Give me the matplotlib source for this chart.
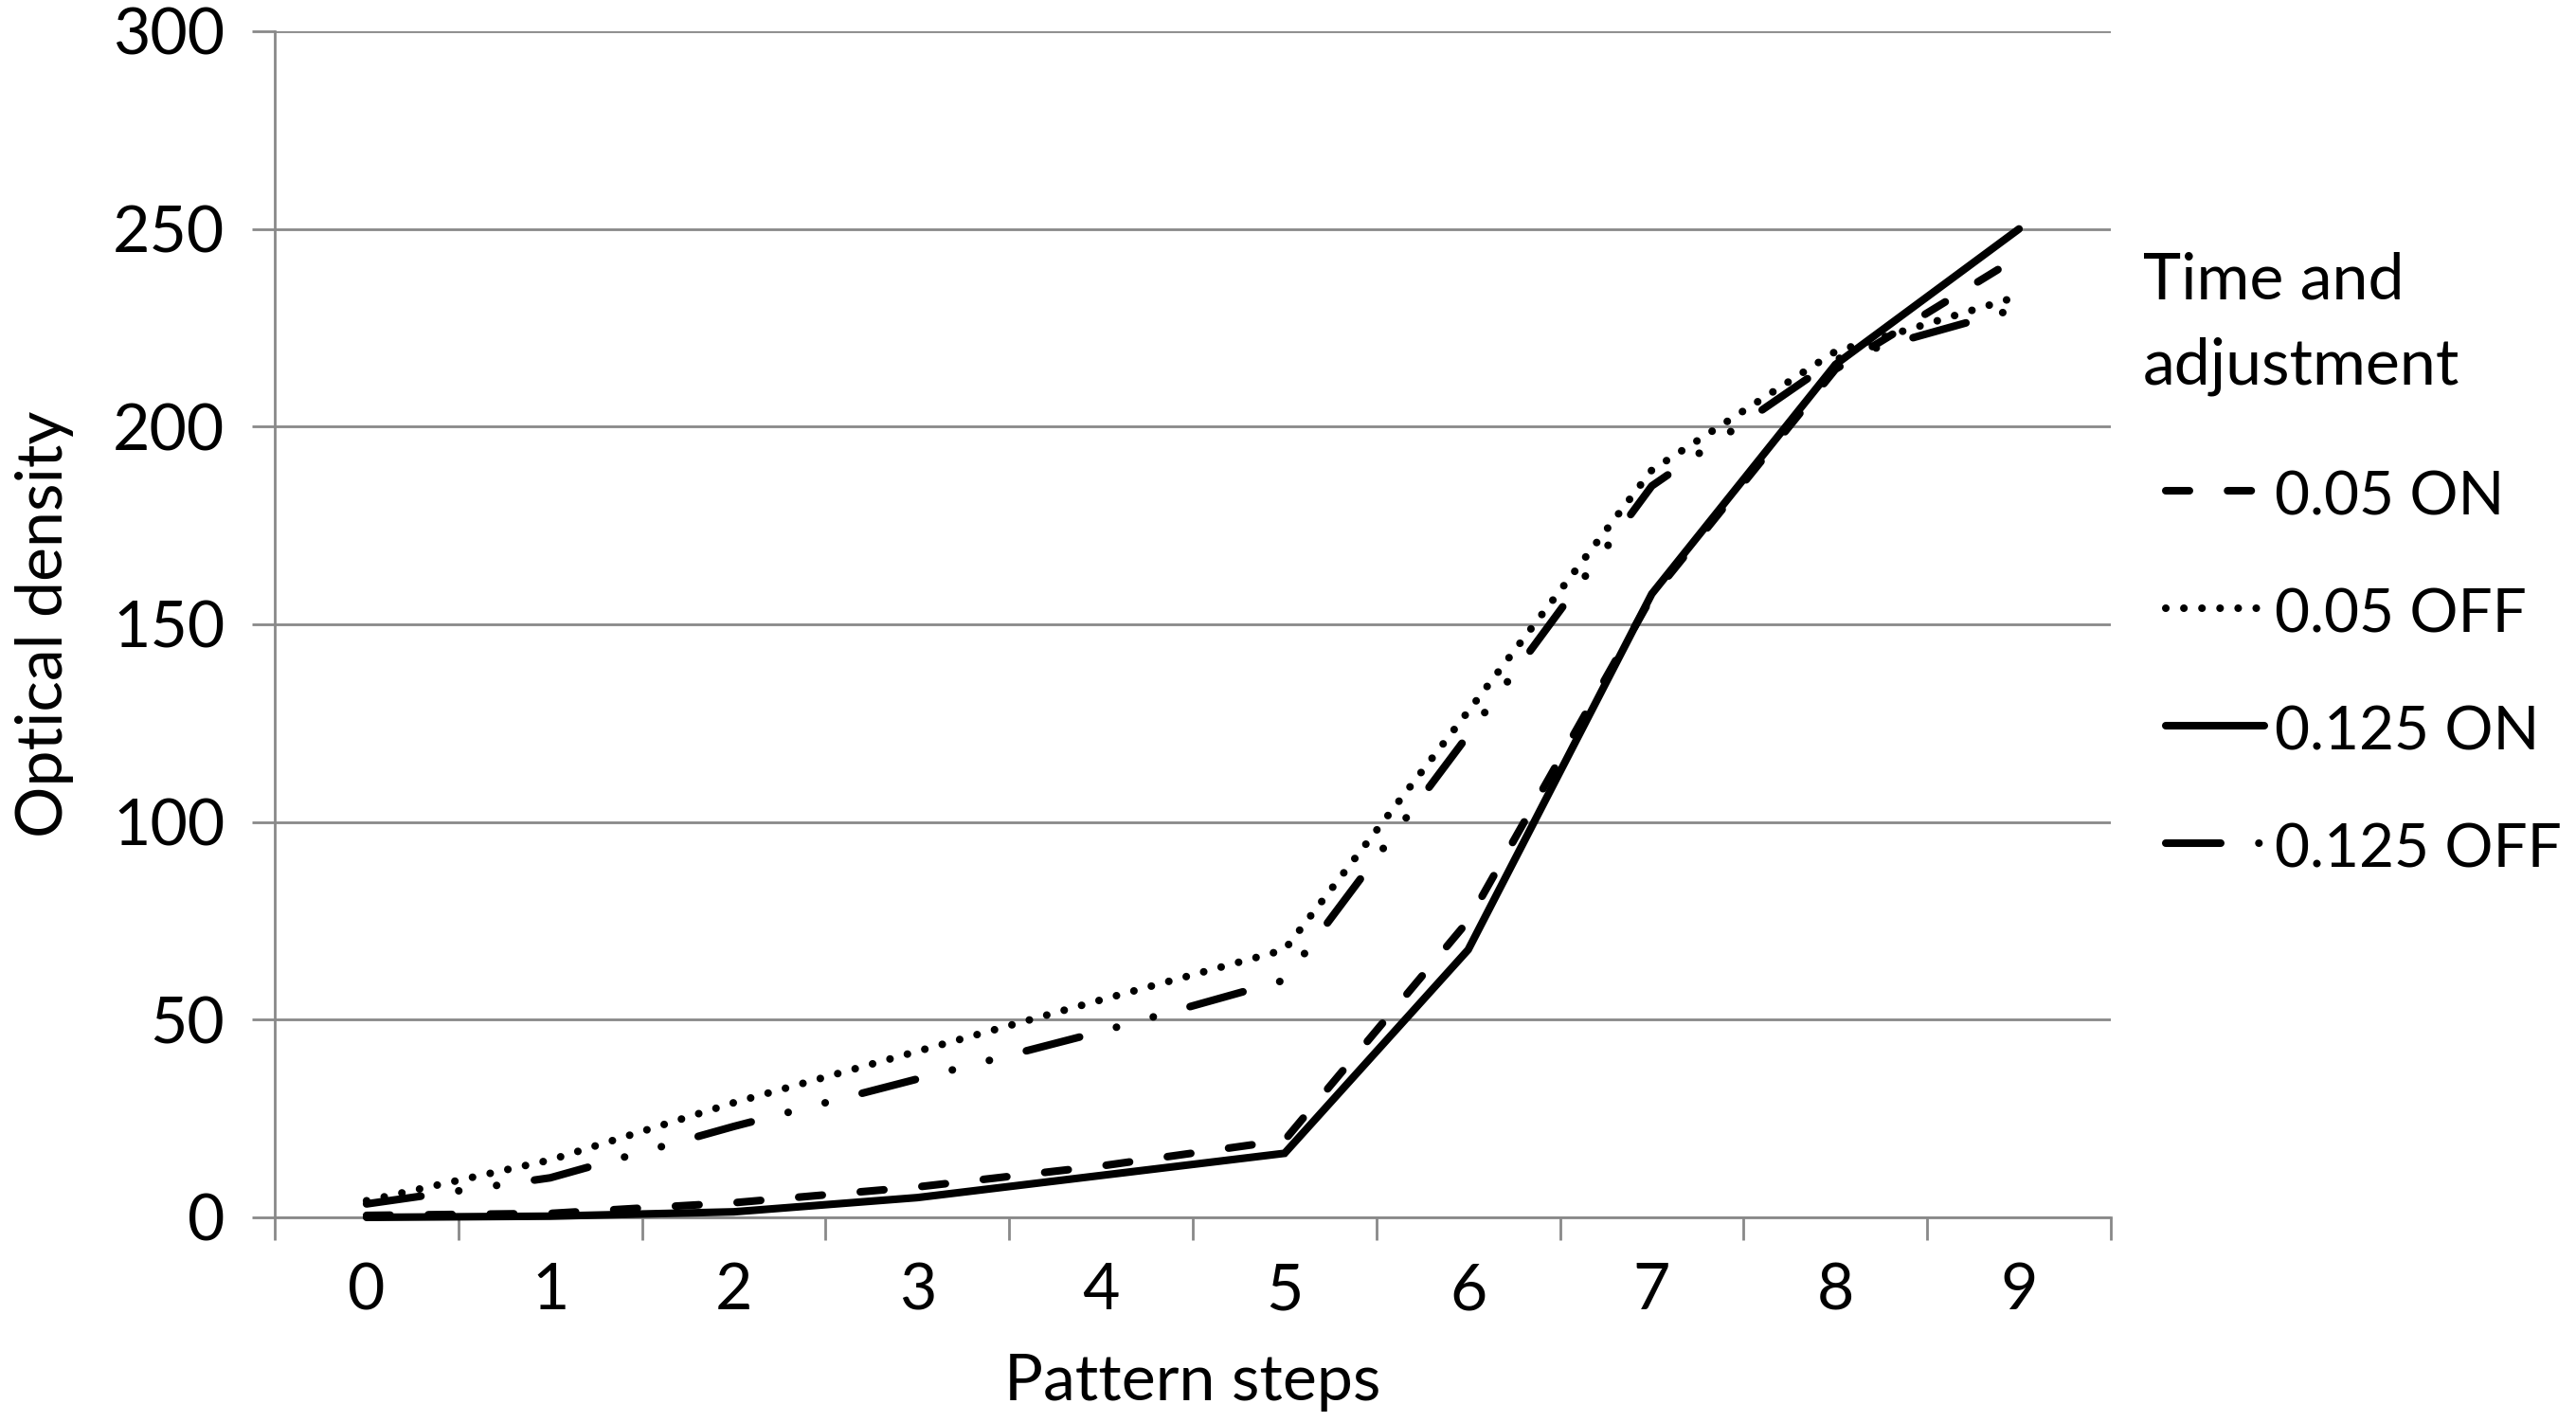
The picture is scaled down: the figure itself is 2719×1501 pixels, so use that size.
import matplotlib.pyplot as plt
from matplotlib.lines import Line2D

# Data
steps = list(range(10))
on_005 = [0.5, 1, 3.7, 7.7, 13, 19.5, 75, 157, 214.5, 243]
off_005 = [4.2, 14.5, 29, 42, 55, 67.7, 128, 189, 219, 233]
on_0125 = [0, 0.3, 1.4, 5, 10.6, 16.2, 67.7, 157.7, 215.7, 250]
off_0125 = [3.4, 10, 23, 35, 47, 60, 122, 185, 217, 230]
labels = ["0.05 ON", "0.05 OFF", "0.125 ON", "0.125 OFF"]
yticks = [0, 50, 100, 150, 200, 250, 300]

plt.rcParams['font.family'] = ['Lato', 'DejaVu Sans']

W, H = 2719, 1501
FS = 49
LW = 5.8
GRAY = "#898989"

# Excel-like line styles (pattern in linewidth units)
styles = [
    (0, (3.1, 5.0)),                          # dashed
    (0, (0.01, 2.36)),                        # dotted
    "solid",
    (0, (7.2, 5.0, 0.01, 5.0, 0.01, 5.0)),    # long dash dot dot
]
series = [on_005, off_005, on_0125, off_0125]

fig = plt.figure(figsize=(W / 100, H / 100), dpi=100)
ax = fig.add_axes([290 / W, 1 - 1285 / H, (2228 - 290) / W, (1285 - 33) / H])

for vals, ls in zip(series, styles):
    ax.plot(steps, vals, color="black", lw=LW, linestyle=ls,
            dash_capstyle="round", solid_capstyle="round",
            solid_joinstyle="miter", zorder=3, clip_on=False)

ax.set_xlim(-0.5, 9.5)
ax.set_ylim(0, 300)
ax.set_yticks(yticks)
ax.set_xticks(steps)
ax.set_xticks([i - 0.5 for i in range(11)], minor=True)

ax.yaxis.grid(True, color=GRAY, lw=2)
ax.set_axisbelow(True)
for s in ["top", "right"]:
    ax.spines[s].set_visible(False)
for s in ["left", "bottom"]:
    ax.spines[s].set_color(GRAY)
    ax.spines[s].set_linewidth(2)

ax.tick_params(axis="y", length=17, width=2, color=GRAY, pad=21, labelsize=FS)
ax.tick_params(axis="x", which="major", length=0, pad=34, labelsize=FS)
ax.tick_params(axis="x", which="minor", length=17, width=2, color=GRAY)

ax.set_xlabel("Pattern steps", fontsize=FS)
ax.xaxis.set_label_coords(0.5, -(1428 - 1285) / (1285 - 33))
ax.set_ylabel("Optical density", fontsize=FS)
ax.yaxis.set_label_coords(-(290 - 78) / (2228 - 290), 0.5)

# Legend drawn by hand, Excel style
fig.text(2262 / W, 1 - 316 / H, "Time and", fontsize=FS, va="baseline")
fig.text(2262 / W, 1 - 405 / H, "adjustment", fontsize=FS, va="baseline")
baselines = [543, 667, 791, 915]
for lab, ls, b in zip(labels, styles, baselines):
    yc = 1 - (b - 25) / H
    fig.add_artist(Line2D([2286 / W, 2390 / W], [yc, yc], transform=fig.transFigure,
                          color="black", lw=LW, linestyle=ls,
                          dash_capstyle="round", solid_capstyle="round"))
    fig.text(2401 / W, 1 - b / H, lab, fontsize=46, va="baseline")

fig.savefig("out.png", dpi=100)
